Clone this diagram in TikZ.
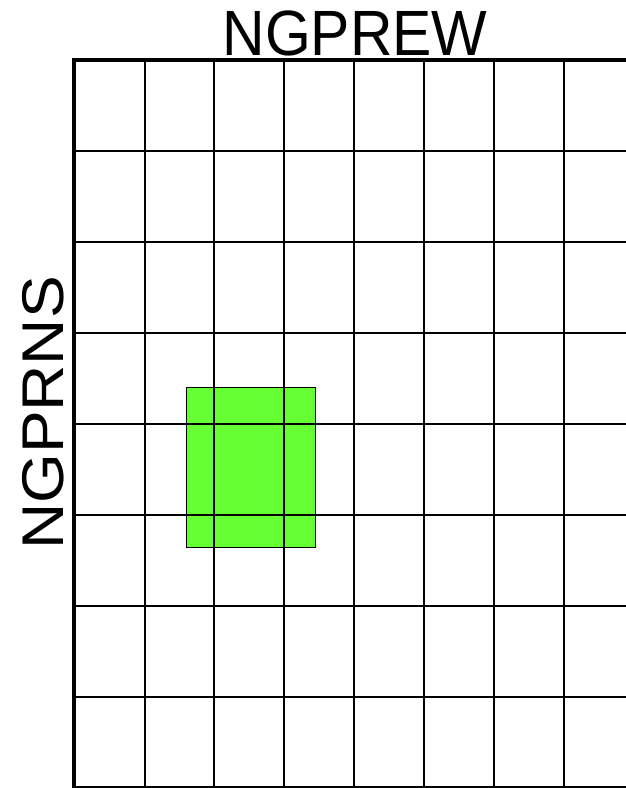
\documentclass[tikz,border=0pt]{standalone}
\usepackage{fontspec}
\setmainfont{Liberation Sans}
\definecolor{boxgreen}{HTML}{66FF33}
\tikzset{
  gridline/.style={line width=2pt, black},
  frameline/.style={line width=4pt, black},
  greenbox/.style={fill=boxgreen, draw=black, line width=1pt},
  axislabel/.style={font=\fontsize{64}{64}\selectfont, inner sep=0pt, xscale=0.92}
}
\begin{document}
\begin{tikzpicture}[x=1pt,y=1pt]
\useasboundingbox (0,0) rectangle (626,788);
% green region (under grid)
\draw[greenbox] (186,400) rectangle (315,240);
% vertical grid lines
\foreach \x in {145,214,284,354,424,494,564} {
  \draw[gridline] (\x,728) -- (\x,0);
}
% horizontal grid lines
\foreach \y in {151,242,333,424,515,606,697,787} {
  \draw[gridline] (74,788-\y) -- (626,788-\y);
}
% frame
\draw[frameline] (626,728) -- (74,728) -- (74,0);
% labels
\node[axislabel, transform shape] (ew) at (355,755) {NGPREW};
\node[axislabel, transform shape, rotate=90] (ns) at (43,375) {NGPRNS};
\end{tikzpicture}
\end{document}
